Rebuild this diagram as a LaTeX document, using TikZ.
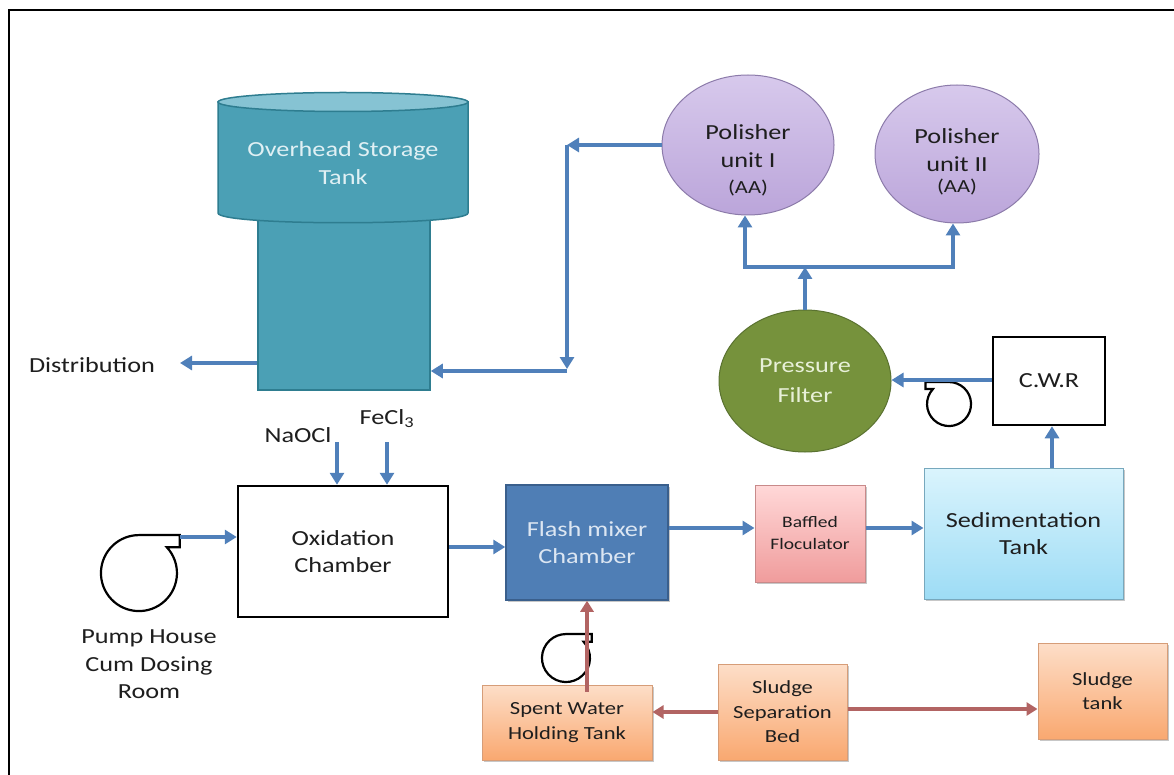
\documentclass[tikz,border=0pt]{standalone}
\usepackage{fontspec}
\setmainfont{Carlito}[FakeStretch=1.22]
\usetikzlibrary{arrows.meta,shapes.geometric,calc,shadows}
\definecolor{tankfill}{HTML}{4BA0B5}
\definecolor{tankline}{HTML}{2E7D90}
\definecolor{tanktop}{HTML}{86C3D3}
\definecolor{tanktext}{HTML}{E0F0F4}
\definecolor{poltop}{HTML}{D7C9EC}
\definecolor{polbot}{HTML}{BBA5DA}
\definecolor{polline}{HTML}{8C7BAA}
\definecolor{pffill}{HTML}{76923C}
\definecolor{pfline}{HTML}{5A7230}
\definecolor{pftext}{HTML}{E8F0D8}
\definecolor{flashfill}{HTML}{4F7EB5}
\definecolor{flashline}{HTML}{3A5F8C}
\definecolor{flashtext}{HTML}{DCE6F2}
\definecolor{baftop}{HTML}{FFD8D8}
\definecolor{bafbot}{HTML}{F09C9C}
\definecolor{bafline}{HTML}{C88A8A}
\definecolor{sedtop}{HTML}{DAF4FD}
\definecolor{sedbot}{HTML}{9DDCF5}
\definecolor{sedline}{HTML}{77A8BD}
\definecolor{ortop}{HTML}{FDDEC8}
\definecolor{orbot}{HTML}{F9A870}
\definecolor{orline}{HTML}{D69D78}
\definecolor{bluearr}{HTML}{5080BA}
\definecolor{redarr}{HTML}{B26463}
\definecolor{txt}{HTML}{1E1E1E}
\newcommand\fA{\fontsize{21.5}{27.5}\selectfont}
\newcommand\fB{\fontsize{18.5}{24.5}\selectfont}
\newcommand\fC{\fontsize{16}{22}\selectfont}
\newcommand\fD{\fontsize{18.5}{20}\selectfont}
\tikzset{
  arr/.style={draw=bluearr, line width=4pt, -{Triangle[length=12pt,width=14pt]}},
  rarr/.style={draw=redarr, line width=3.5pt, -{Triangle[length=11pt,width=13pt]}},
  lbl/.style={text=txt, align=center, inner sep=0pt, font=\fA},
  shad/.style={drop shadow={shadow xshift=1.5pt, shadow yshift=-1.5pt, fill=black, opacity=0.22}},
  boxbw/.style={draw=black, line width=2.5pt, fill=white, inner sep=0pt, text=txt, align=center, font=\fA},
  orbox/.style={shad, draw=orline, line width=1pt, top color=ortop, bottom color=orbot, inner sep=0pt, text=txt, align=center, font=\fB, minimum width=129pt},
  polell/.style={ellipse, draw=polline, line width=1pt, top color=poltop, bottom color=polbot, inner sep=0pt},
  pumpline/.style={draw=black, line width=2.2pt},
  pics/pump/.style={code={
    \draw[pumpline] (0pt,#1pt) -- (1.07*#1pt,#1pt) -- (1.07*#1pt,0.68*#1pt) -- (0.73*#1pt,0.68*#1pt)
      arc[start angle=43, end angle=-270, radius=#1pt];
  }}
}
\begin{document}
\begin{tikzpicture}[x=1pt,y=-1pt]
\useasboundingbox (0,0) rectangle (1174,775);
\fill[white] (0,0) rectangle (1174,775);
% frame
\draw[line width=2.5pt, black] (1174,10) -- (9,10) -- (9,775);

% overhead tank
\node[draw=tankline, line width=1.5pt, fill=tankfill, minimum width=172pt, minimum height=173pt, inner sep=0pt] (col) at (344,303.5) {};
\path[draw=tankline, line width=1.5pt, fill=tankfill] (218,102) -- (218,213) .. controls (218,226) and (468,226) .. (468,213) -- (468,102) -- cycle;
\draw[tankline, line width=1.5pt, fill=tanktop] (343,102) ellipse [x radius=125pt, y radius=9.5pt];
\node[text=tanktext, align=center, font=\fA, inner sep=0pt] (tanktxt) at (343,163) {Overhead Storage\\Tank};

% distribution
\node[lbl] (dist) at (92,365) {Distribution};
\coordinate (dtip) at (180,363);
\draw[arr] (col.west |- dtip) -- (dtip);

% polishers
\node[polell, minimum width=172pt, minimum height=140pt] (p1) at (748,145) {};
\node[lbl] (p1t) at (748,146) {Polisher\\unit I};
\node[text=txt, font=\fD, inner sep=0pt] (p1aa) at (748,188) {(AA)};
\node[polell, minimum width=164pt, minimum height=138pt] (p2) at (957,154) {};
\node[lbl] (p2t) at (957,150) {Polisher\\unit II};
\node[text=txt, font=\fD, inner sep=0pt] (p2aa) at (957,187) {(AA)};

% pressure filter
\node[ellipse, draw=pfline, line width=1pt, fill=pffill, minimum width=172pt, minimum height=142pt, inner sep=0pt, text=pftext, align=center, font=\fontsize{21.5}{30}\selectfont] (pf) at (805,381) {Pressure\\Filter};

% bus to polishers
\coordinate (bl) at (745,267);
\coordinate (br) at (953,267);
\draw[arr] (pf.north) -- (pf.north |- bl);
\draw[arr] (br) -- (bl) -- (bl |- p1.south);
\draw[arr] (bl) -- (br) -- (br |- p2.south);

% return to tank
\coordinate (c1) at (567,145);
\coordinate (c2) at (567,369);
\draw[arr] (p1.west) -- (c1);
\draw[arr] (c1) -- (c2);
\draw[arr] ([yshift=-2pt]c2) -- ([yshift=-2pt]c2 -| col.east);

% C.W.R
\node[boxbw, minimum width=112pt, minimum height=88pt] (cwr) at (1049,381) {C.W.R};
\pic[xscale=-1] (pumpc) at (949,404) {pump=22};
\draw[arr] (cwr.west |- 0,380) -- (pf.east |- 0,380);

% oxidation chamber
\node[boxbw, minimum width=210pt, minimum height=131pt] (ox) at (343,551.5) {Oxidation\\Chamber};
\node[lbl] (naocl) at (298,435) {NaOCl};
\node[lbl] (fecl) at (387,419) {FeCl\textsubscript{3}};
\coordinate (na) at (337,442);
\coordinate (fe) at (387,442);
\draw[arr] (na) -- (na |- ox.north);
\draw[arr] (fe) -- (fe |- ox.north);

% pump house
\pic (pumph) at (139,573) {pump=38};
\node[lbl] (phl) at (149,664.5) {Pump House\\Cum Dosing\\Room};
\coordinate (po) at (180,537);
\draw[arr] (po) -- (po -| ox.west);

% flash mixer
\node[shad, draw=flashline, line width=1.5pt, fill=flashfill, minimum width=162pt, minimum height=115pt, inner sep=0pt, text=flashtext, align=center, font=\fA] (flash) at (587,542.5) {Flash mixer\\Chamber};
\draw[arr] (ox.east |- 0,547) -- (flash.west |- 0,547);

% baffled
\node[shad, draw=bafline, line width=1pt, top color=baftop, bottom color=bafbot, minimum width=110pt, minimum height=97pt, inner sep=0pt, text=txt, align=center, font=\fC] (baf) at (810,533.5) {Baffled\\Floculator};
\draw[arr] (flash.east |- 0,528) -- (baf.west |- 0,528);

% sedimentation
\node[shad, draw=sedline, line width=1pt, top color=sedtop, bottom color=sedbot, minimum width=199pt, minimum height=131pt, inner sep=0pt, text=txt, align=center, font=\fA] (sed) at (1023.5,533.5) {Sedimentation\\Tank};
\draw[arr] (baf.east |- 0,528) -- (sed.west |- 0,528);
\draw[arr] (sed.north -| 1052,0) -- (cwr.south -| 1052,0);

% sludge boxes
\node[orbox, minimum height=96pt] (sludge) at (1102.5,691) {Sludge\\tank};
\node[orbox, minimum height=96pt] (sep) at (782.5,712) {Sludge\\Separation\\Bed};
\node[orbox, minimum width=170pt, minimum height=75pt] (spent) at (567,722.5) {Spent Water\\Holding Tank};
\draw[rarr] (sep.west |- 0,712) -- (spent.east |- 0,712);
\draw[rarr] (sep.east |- 0,709) -- (sludge.west |- 0,709);

% spent water pump and return
\pic (pumps) at (566,658) {pump=24};
\draw[rarr] ([yshift=-7pt]spent.north -| flash.south) -- (flash.south);
\end{tikzpicture}
\end{document}
